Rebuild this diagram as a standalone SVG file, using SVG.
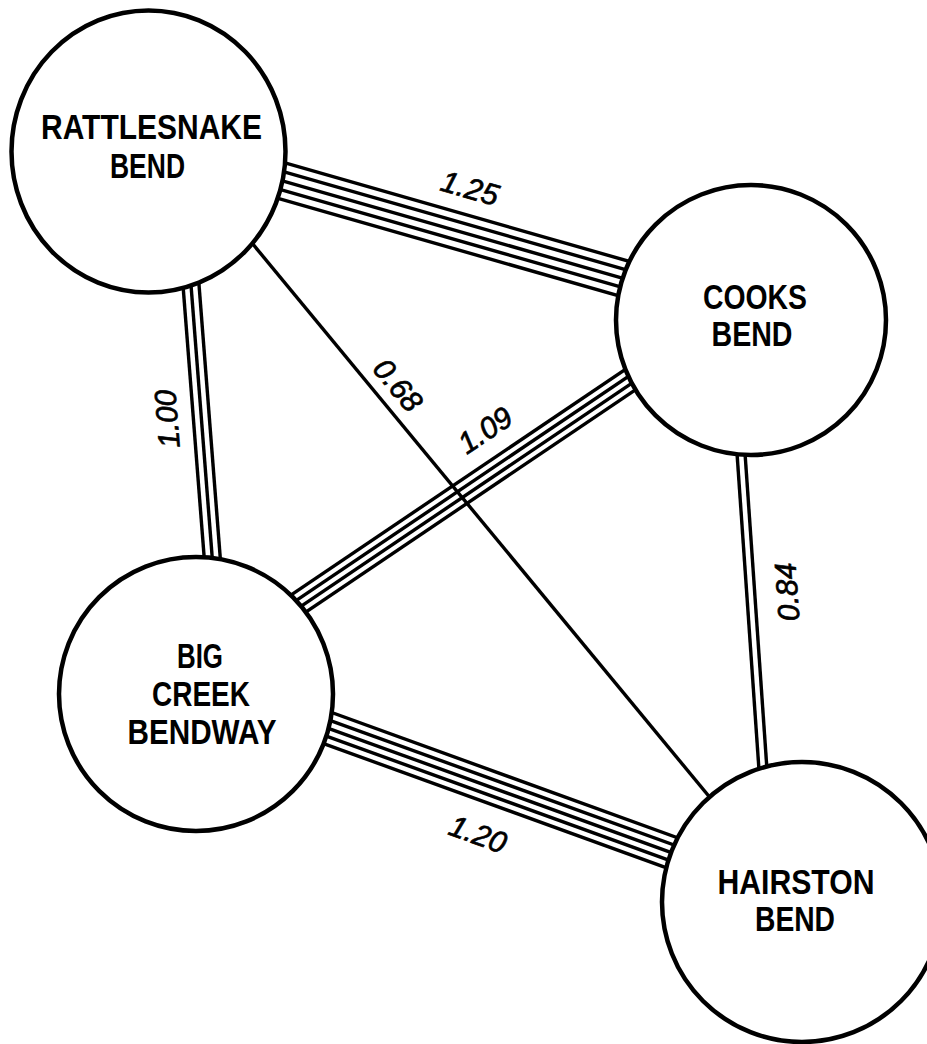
<svg xmlns="http://www.w3.org/2000/svg" width="927" height="1044" viewBox="0 0 927 1044">
<style>
.ln{stroke:#000;stroke-width:3.4;fill:none;stroke-linecap:butt}
.nd{fill:#fff;stroke:#000;stroke-width:4.5}
.nt{font-family:"Liberation Sans",Arial,sans-serif;font-weight:bold;font-size:35px;fill:#000;text-anchor:middle}
.lb{font-family:"Liberation Sans",Arial,sans-serif;font-style:italic;font-size:30px;fill:#000;stroke:#000;stroke-width:0.7;text-anchor:middle;dominant-baseline:central}
</style>
<rect width="927" height="1044" fill="#fff"/>
<g id="connectors">
  <g id="e-rattlesnake-cooks" transform="translate(283,181) rotate(15.97)">
    <line class="ln" x1="-40" y1="-18" x2="400" y2="-18"/>
    <line class="ln" x1="-40" y1="-9" x2="400" y2="-9"/>
    <line class="ln" x1="-40" y1="0" x2="400" y2="0"/>
    <line class="ln" x1="-40" y1="9" x2="400" y2="9"/>
    <line class="ln" x1="-40" y1="18" x2="400" y2="18"/>
  </g>
  <g id="e-rattlesnake-bigcreek" transform="translate(191,285) rotate(85.55)">
    <line class="ln" x1="-60" y1="-8" x2="330" y2="-8"/>
    <line class="ln" x1="-60" y1="0" x2="330" y2="0"/>
    <line class="ln" x1="-60" y1="8" x2="330" y2="8"/>
  </g>
  <g id="e-bigcreek-cooks" transform="translate(297,604.5) rotate(-34)">
    <line class="ln" x1="-60" y1="-11.25" x2="460" y2="-11.25"/>
    <line class="ln" x1="-60" y1="-3.75" x2="460" y2="-3.75"/>
    <line class="ln" x1="-60" y1="3.75" x2="460" y2="3.75"/>
    <line class="ln" x1="-60" y1="11.25" x2="460" y2="11.25"/>
  </g>
  <g id="e-rattlesnake-hairston">
    <line class="ln" x1="228" y1="214" x2="731" y2="823"/>
  </g>
  <g id="e-cooks-hairston" transform="translate(741,453) rotate(86.03)">
    <line class="ln" x1="-60" y1="-4" x2="370" y2="-4"/>
    <line class="ln" x1="-60" y1="4" x2="370" y2="4"/>
  </g>
  <g id="e-bigcreek-hairston" transform="translate(333,730) rotate(19.91)">
    <line class="ln" x1="-60" y1="-16" x2="420" y2="-16"/>
    <line class="ln" x1="-60" y1="-8" x2="420" y2="-8"/>
    <line class="ln" x1="-60" y1="0" x2="420" y2="0"/>
    <line class="ln" x1="-60" y1="8" x2="420" y2="8"/>
    <line class="ln" x1="-60" y1="16" x2="420" y2="16"/>
  </g>
  <g id="edge-labels">
    <text class="lb" transform="translate(470,188) rotate(16)">1.25</text>
    <text class="lb" transform="translate(167,419) rotate(-94.4)">1.00</text>
    <text class="lb" transform="translate(398,385) rotate(50.4)">0.68</text>
    <text class="lb" transform="translate(485,430) rotate(-34)">1.09</text>
    <text class="lb" transform="translate(787,592) rotate(-94)">0.84</text>
    <text class="lb" transform="translate(478,834) rotate(19.9)">1.20</text>
  </g>
</g>
<g id="node-rattlesnake">
  <ellipse class="nd" cx="148.5" cy="151.5" rx="137" ry="141"/>
  <text class="nt" x="151.5" y="139" textLength="221" lengthAdjust="spacingAndGlyphs">RATTLESNAKE</text>
  <text class="nt" x="147.5" y="178" textLength="75" lengthAdjust="spacingAndGlyphs">BEND</text>
</g>
<g id="node-cooks">
  <circle class="nd" cx="751" cy="320" r="135"/>
  <text class="nt" x="755" y="309" textLength="104" lengthAdjust="spacingAndGlyphs">COOKS</text>
  <text class="nt" x="752" y="346" textLength="81" lengthAdjust="spacingAndGlyphs">BEND</text>
</g>
<g id="node-bigcreek">
  <circle class="nd" cx="196" cy="694" r="137"/>
  <text class="nt" x="200" y="668" textLength="46" lengthAdjust="spacingAndGlyphs">BIG</text>
  <text class="nt" x="201" y="706" textLength="98" lengthAdjust="spacingAndGlyphs">CREEK</text>
  <text class="nt" x="202" y="744" textLength="149" lengthAdjust="spacingAndGlyphs">BENDWAY</text>
</g>
<g id="node-hairston">
  <circle class="nd" cx="802" cy="902" r="140"/>
  <text class="nt" x="796" y="894" textLength="157" lengthAdjust="spacingAndGlyphs">HAIRSTON</text>
  <text class="nt" x="795" y="931" textLength="80" lengthAdjust="spacingAndGlyphs">BEND</text>
</g>
</svg>
